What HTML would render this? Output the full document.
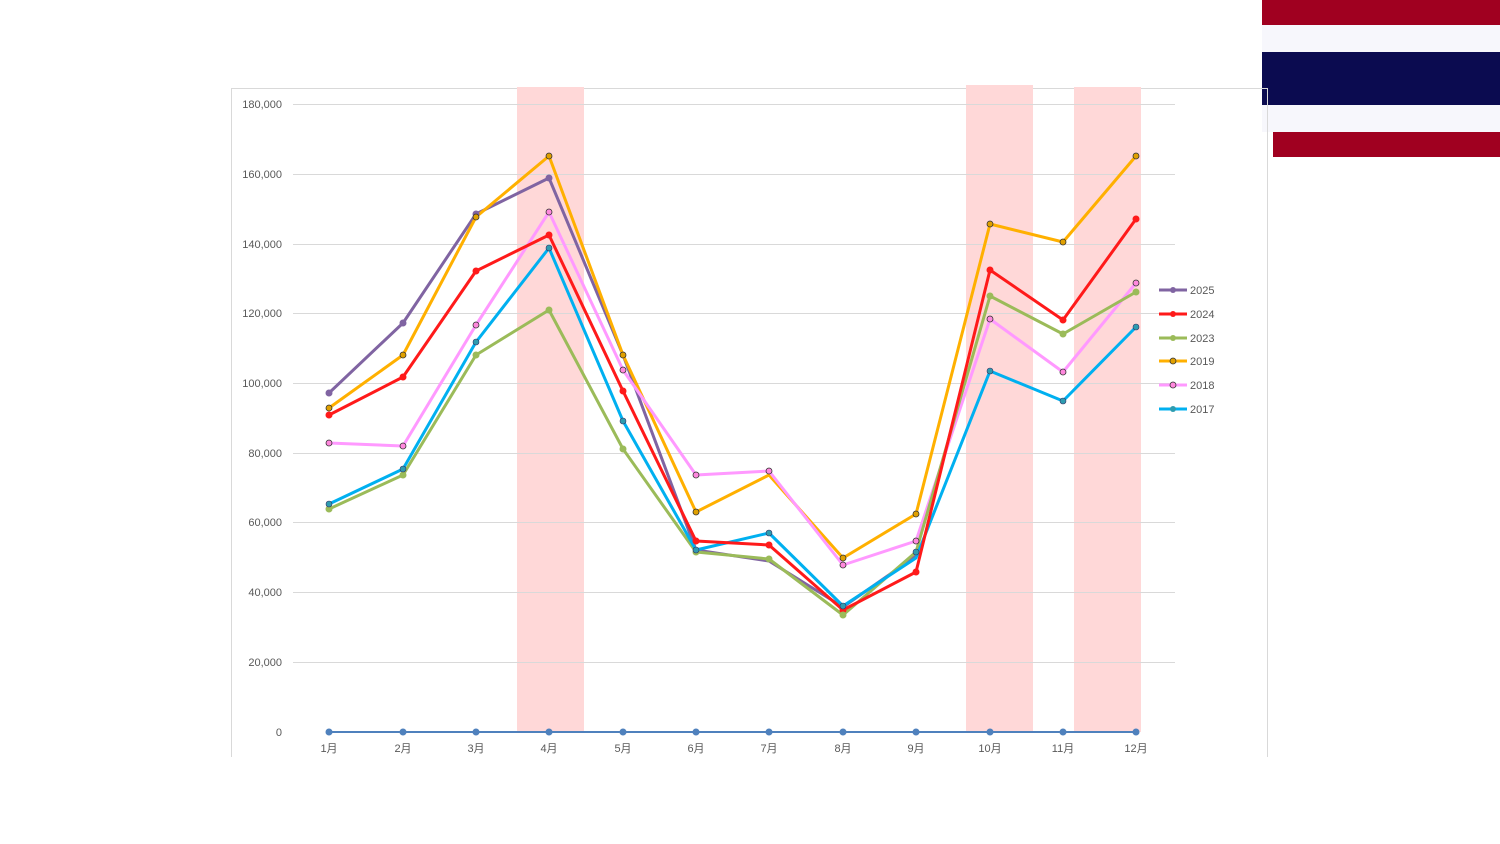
<!DOCTYPE html>
<html><head><meta charset="utf-8"><style>
body{margin:0;background:#fff;width:1500px;height:844px;overflow:hidden}
svg{display:block;font-family:"Liberation Sans","Noto Sans CJK JP",sans-serif}
</style></head><body>
<svg width="1500" height="844" viewBox="0 0 1500 844">
<rect x="1262" y="0" width="238" height="25" fill="#A00020"/>
<rect x="1262" y="25" width="238" height="27" fill="#F7F7FC"/>
<rect x="1262" y="52" width="238" height="53" fill="#0B0B50"/>
<rect x="1262" y="105" width="238" height="27" fill="#F7F7FC"/>
<rect x="1273" y="132" width="227" height="25" fill="#A00020"/>
<path d="M231.5 757V88.5H1267.5V757" fill="none" stroke="#d9d9d9"/>
<g fill="#FFD8D8"><rect x="517" y="87" width="67" height="645"/><rect x="966" y="85" width="67" height="647"/><rect x="1074" y="87" width="67" height="645"/></g>
<g stroke="#d9d9d9" stroke-width="1">
<line x1="293" x2="1175" y1="104.5" y2="104.5"/><line x1="293" x2="1175" y1="174.5" y2="174.5"/><line x1="293" x2="1175" y1="244.5" y2="244.5"/><line x1="293" x2="1175" y1="313.5" y2="313.5"/><line x1="293" x2="1175" y1="383.5" y2="383.5"/><line x1="293" x2="1175" y1="453.5" y2="453.5"/><line x1="293" x2="1175" y1="522.5" y2="522.5"/><line x1="293" x2="1175" y1="592.5" y2="592.5"/><line x1="293" x2="1175" y1="662.5" y2="662.5"/>
</g>
<g font-size="11" fill="#595959" text-anchor="end">
<text x="282" y="108">180,000</text><text x="282" y="178">160,000</text><text x="282" y="248">140,000</text><text x="282" y="317">120,000</text><text x="282" y="387">100,000</text><text x="282" y="457">80,000</text><text x="282" y="526">60,000</text><text x="282" y="596">40,000</text><text x="282" y="666">20,000</text><text x="282" y="736">0</text>
</g>
<g font-size="11" fill="#595959" text-anchor="middle">
<text x="329" y="752">1月</text><text x="403" y="752">2月</text><text x="476" y="752">3月</text><text x="549" y="752">4月</text><text x="623" y="752">5月</text><text x="696" y="752">6月</text><text x="769" y="752">7月</text><text x="843" y="752">8月</text><text x="916" y="752">9月</text><text x="990" y="752">10月</text><text x="1063" y="752">11月</text><text x="1136" y="752">12月</text>
</g>
<g fill="none" stroke-width="3" stroke-linejoin="round">
<polyline stroke="#8064A2" points="329,393 403,323 476,214 549,178 623,355 696,550 769,561 843,607 916,556"/>
<polyline stroke="#FFB000" points="329,408 403,355 476,217 549,156 623,355 696,512 769,475 843,558 916,514 990,224 1063,242 1136,156"/>
<polyline stroke="#FF99FF" points="329,443 403,446 476,325 549,212 623,370 696,475 769,471 843,565 916,541 990,319 1063,372 1136,283"/>
<polyline stroke="#9BBB59" points="329,509 403,475 476,355 549,310 623,449 696,552 769,559 843,615 916,552 990,296 1063,334 1136,292"/>
<polyline stroke="#00B0F0" points="329,504 403,469 476,342 549,248 623,421 696,550 769,533 843,606 916,558 990,371 1063,401 1136,327"/>
<polyline stroke="#FF1A1A" points="329,415 403,377 476,271 549,235 623,391 696,541 769,545 843,610 916,572 990,270 1063,320 1136,219"/>
<line x1="329" x2="1136" y1="732" y2="732" stroke="#4F81BD" stroke-width="2"/>
</g>
<g fill="#4F81BD"><circle cx="329" cy="732" r="3.5"/><circle cx="403" cy="732" r="3.5"/><circle cx="476" cy="732" r="3.5"/><circle cx="549" cy="732" r="3.5"/><circle cx="623" cy="732" r="3.5"/><circle cx="696" cy="732" r="3.5"/><circle cx="769" cy="732" r="3.5"/><circle cx="843" cy="732" r="3.5"/><circle cx="916" cy="732" r="3.5"/><circle cx="990" cy="732" r="3.5"/><circle cx="1063" cy="732" r="3.5"/><circle cx="1136" cy="732" r="3.5"/></g>
<g fill="#8064A2"><circle cx="329" cy="393" r="3.5"/><circle cx="403" cy="323" r="3.5"/><circle cx="476" cy="214" r="3.5"/><circle cx="549" cy="178" r="3.5"/></g>
<g fill="#FF1A1A"><circle cx="329" cy="415" r="3.5"/><circle cx="403" cy="377" r="3.5"/><circle cx="476" cy="271" r="3.5"/><circle cx="549" cy="235" r="3.5"/><circle cx="623" cy="391" r="3.5"/><circle cx="696" cy="541" r="3.5"/><circle cx="769" cy="545" r="3.5"/><circle cx="843" cy="610" r="3.5"/><circle cx="916" cy="572" r="3.5"/><circle cx="990" cy="270" r="3.5"/><circle cx="1063" cy="320" r="3.5"/><circle cx="1136" cy="219" r="3.5"/></g>
<g fill="#9BBB59"><circle cx="329" cy="509" r="3.5"/><circle cx="403" cy="475" r="3.5"/><circle cx="476" cy="355" r="3.5"/><circle cx="549" cy="310" r="3.5"/><circle cx="623" cy="449" r="3.5"/><circle cx="696" cy="552" r="3.5"/><circle cx="769" cy="559" r="3.5"/><circle cx="843" cy="615" r="3.5"/><circle cx="990" cy="296" r="3.5"/><circle cx="1063" cy="334" r="3.5"/><circle cx="1136" cy="292" r="3.5"/></g>
<g fill="#E0A000" stroke="#333" stroke-width="0.8"><circle cx="329" cy="408" r="3"/><circle cx="403" cy="355" r="3"/><circle cx="476" cy="217" r="3"/><circle cx="549" cy="156" r="3"/><circle cx="623" cy="355" r="3"/><circle cx="696" cy="512" r="3"/><circle cx="843" cy="558" r="3"/><circle cx="916" cy="514" r="3"/><circle cx="990" cy="224" r="3"/><circle cx="1063" cy="242" r="3"/><circle cx="1136" cy="156" r="3"/></g>
<g fill="#FF88DD" stroke="#333" stroke-width="0.8"><circle cx="329" cy="443" r="3"/><circle cx="403" cy="446" r="3"/><circle cx="476" cy="325" r="3"/><circle cx="549" cy="212" r="3"/><circle cx="623" cy="370" r="3"/><circle cx="696" cy="475" r="3"/><circle cx="769" cy="471" r="3"/><circle cx="843" cy="565" r="3"/><circle cx="916" cy="541" r="3"/><circle cx="990" cy="319" r="3"/><circle cx="1063" cy="372" r="3"/><circle cx="1136" cy="283" r="3"/></g>
<g fill="#2E9CB0" stroke="#336" stroke-width="0.6"><circle cx="329" cy="504" r="3"/><circle cx="403" cy="469" r="3"/><circle cx="476" cy="342" r="3"/><circle cx="549" cy="248" r="3"/><circle cx="623" cy="421" r="3"/><circle cx="696" cy="550" r="3"/><circle cx="769" cy="533" r="3"/><circle cx="843" cy="606" r="3"/><circle cx="916" cy="552" r="3"/><circle cx="990" cy="371" r="3"/><circle cx="1063" cy="401" r="3"/><circle cx="1136" cy="327" r="3"/></g>
<g stroke-width="3">
<line x1="1159" x2="1187" y1="290" y2="290" stroke="#8064A2"/><line x1="1159" x2="1187" y1="314" y2="314" stroke="#FF1A1A"/><line x1="1159" x2="1187" y1="338" y2="338" stroke="#9BBB59"/><line x1="1159" x2="1187" y1="361" y2="361" stroke="#FFB000"/><line x1="1159" x2="1187" y1="385" y2="385" stroke="#FF99FF"/><line x1="1159" x2="1187" y1="409" y2="409" stroke="#00B0F0"/>
</g>
<circle cx="1173" cy="290" r="3" fill="#8064A2"/><circle cx="1173" cy="314" r="3" fill="#FF1A1A"/><circle cx="1173" cy="338" r="3" fill="#9BBB59"/><circle cx="1173" cy="361" r="3" fill="#E0A000" stroke="#333" stroke-width="0.8"/><circle cx="1173" cy="385" r="3" fill="#FF88DD" stroke="#333" stroke-width="0.8"/><circle cx="1173" cy="409" r="3" fill="#2E9CB0"/>
<g font-size="11" fill="#595959">
<text x="1190" y="294">2025</text><text x="1190" y="318">2024</text><text x="1190" y="342">2023</text><text x="1190" y="365">2019</text><text x="1190" y="389">2018</text><text x="1190" y="413">2017</text>
</g>
</svg>
</body></html>
